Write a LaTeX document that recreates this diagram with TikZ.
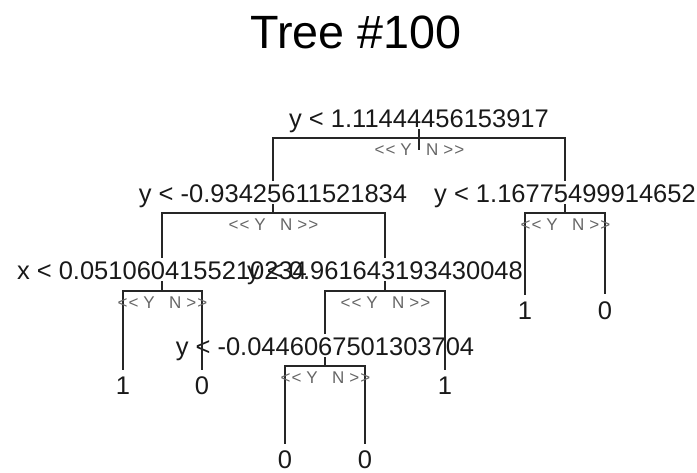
\documentclass[tikz,border=0pt]{standalone}
\usepackage{fontspec}
\setmainfont{Liberation Sans}
\begin{document}
\begin{tikzpicture}[x=1pt,y=-1pt,
  edge/.style={line width=1.9pt, draw=black!85},
  lab/.style={font=\fontsize{25.5}{30}\selectfont, anchor=base, inner sep=3pt, text=black!90},
  leaf/.style={font=\fontsize{25.5}{30}\selectfont, anchor=base, inner sep=6.5pt, text=black!90},
  ynL/.style={font=\fontsize{17}{19}\selectfont, text=black!60, anchor=base east, inner sep=0pt},
  ynR/.style={font=\fontsize{17}{19}\selectfont, text=black!60, anchor=base west, inner sep=0pt}]
\useasboundingbox (0,0) rectangle (697,472);

\node[font=\fontsize{46.7}{56}\selectfont, anchor=base, inner sep=0pt] (title) at (356,48) {Tree \#100};

% internal nodes
\coordinate (root) at (419,138);
\node[lab] (rootl) at (419,127) {y < 1.11444456153917};
\coordinate (A) at (273,213);
\node[lab] (Al) at (273,202) {y < -0.93425611521834};
\coordinate (B) at (565,213);
\node[lab] (Bl) at (565,202) {y < 1.16775499914652};
\coordinate (C) at (162,291);
\node[lab] (Cl) at (162,279) {x < 0.0510604155210234};
\coordinate (D) at (385,291);
\node[lab] (Dl) at (385,279) {y < 0.961643193430048};
\coordinate (E) at (325,366);
\node[lab] (El) at (325,355) {y < -0.0446067501303704};

% leaves
\node[leaf] (B1) at (525,319) {1};
\node[leaf] (B2) at (605,319) {0};
\node[leaf] (C1) at (123,394) {1};
\node[leaf] (C2) at (202,394) {0};
\node[leaf] (D2) at (445,394) {1};
\node[leaf] (E1) at (285,468) {0};
\node[leaf] (E2) at (365,468) {0};

% splits
\draw[edge] (Al.north) -- (Al.north |- root) -- (Bl.north |- root) -- (Bl.north);
\draw[edge] ([yshift=-2pt]rootl.base) -- ([yshift=-12pt]root);
\draw[edge] (Cl.north) -- (Cl.north |- A) -- (Dl.north |- A) -- (Dl.north);
\draw[edge] ([yshift=-2pt]Al.base) -- (A);
\draw[edge] (B1.north) -- (B1.north |- B) -- (B2.north |- B) -- (B2.north);
\draw[edge] ([yshift=-2pt]Bl.base) -- (B);
\draw[edge] (C1.north) -- (C1.north |- C) -- (C2.north |- C) -- (C2.north);
\draw[edge] ([yshift=-2pt]Cl.base) -- (C);
\draw[edge] (El.north) -- (El.north |- D) -- (D2.north |- D) -- (D2.north);
\draw[edge] ([yshift=-2pt]Dl.base) -- (D);
\draw[edge] (E1.north) -- (E1.north |- E) -- (E2.north |- E) -- (E2.north);
\draw[edge] ([yshift=-2pt]El.base) -- (E);

% Y/N labels
\foreach \n in {root,A,B,C,D,E}{
  \node[ynL] (\n yl) at ([xshift=-7pt,yshift=-17pt]\n) {<\kern1pt<\hspace{5pt}Y};
  \node[ynR] (\n yr) at ([xshift=7pt,yshift=-17pt]\n) {N\hspace{5pt}>\kern1pt>};
}
\end{tikzpicture}
\end{document}
